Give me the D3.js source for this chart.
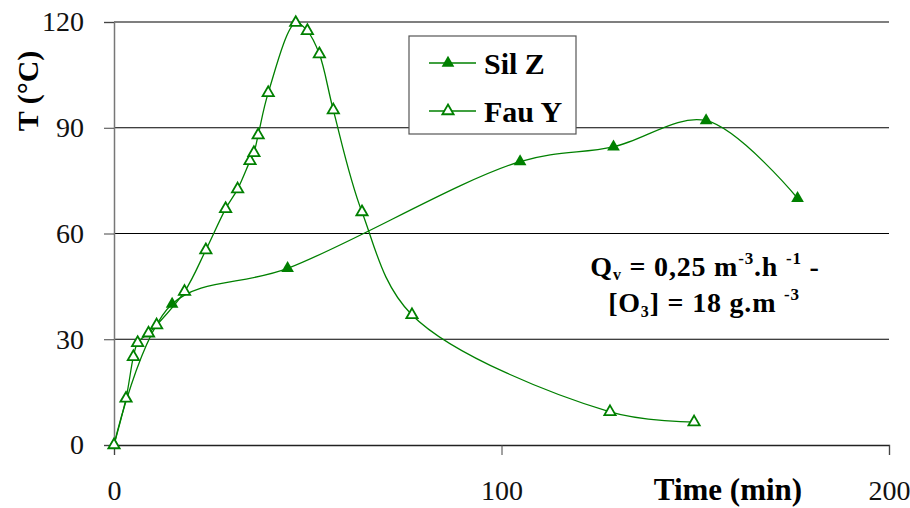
<!DOCTYPE html>
<html>
<head>
<meta charset="utf-8">
<script src="https://cdn.jsdelivr.net/npm/d3@7"></script>
<style>
  body { margin: 0; background: #fff; }
  svg text { font-family: "Liberation Serif", "Times New Roman", Tinos, "DejaVu Serif", "Noto Serif", Times, serif !important; }
</style>
</head>
<body>
<div id="chart"></div>
<script>
// Fau Y (open triangles)
const fauTime = [0, 3.1, 5.0, 6.1, 8.9, 11.0, 18.2, 23.7, 28.8, 31.9, 35.1, 36.1, 37.2, 39.8, 46.9, 49.9, 53.0, 56.6, 64.0, 76.9, 128, 149.7];
const fauTemp = [0, 13.2, 25.0, 29.0, 31.7, 34.0, 43.5, 55.3, 67.0, 72.6, 80.6, 82.9, 87.9, 99.9, 119.8, 117.5, 110.9, 95.0, 66.1, 36.9, 9.4, 6.5];
// Sil Z (filled triangles)
const silTime = [0, 15, 44.8, 104.8, 128.9, 152.8, 176.4];
const silTemp = [0, 40, 50.1, 80.4, 84.6, 92, 70];

const xTicks = [0, 100, 200];
const yTicks = [0, 30, 60, 90, 120];
const seriesNames = ['Sil Z', 'Fau Y'];

const w = 910, h = 508;
const green = '#008000';

const svg = d3.select('#chart').append('svg')
  .attr('width', w)
  .attr('height', h);

const x = d3.scaleLinear().domain([0, 200]).range([114, 889]);
const y = d3.scaleLinear().domain([0, 120]).range([445, 22]);

// grid lines
svg.append('g')
  .selectAll('line')
  .data(yTicks.filter(d => d > 0))
  .enter().append('line')
  .attr('x1', x(0)).attr('x2', x(200))
  .attr('y1', d => y(d)).attr('y2', d => y(d))
  .attr('stroke', '#000').attr('stroke-width', 1.2);

// y axis
const yAxis = d3.axisLeft(y).tickValues(yTicks).tickSize(10).tickPadding(20);
const gy = svg.append('g').attr('transform', `translate(${x(0)},0)`).call(yAxis);
gy.attr('font-family', null);
gy.select('.domain').attr('stroke', '#777').attr('stroke-width', 1.5);
gy.selectAll('.tick line').attr('stroke', '#444');
gy.selectAll('.tick text').attr('font-size', 28).attr('fill', '#111');

// x axis
const xAxis = d3.axisBottom(x).tickValues(xTicks).tickSize(10).tickPadding(25);
const gx = svg.append('g').attr('transform', `translate(0,${y(0)})`).call(xAxis);
gx.attr('font-family', null);
gx.select('.domain').attr('stroke', '#222').attr('stroke-width', 1.3);
gx.selectAll('.tick line').attr('stroke', '#444');
gx.selectAll('.tick text').attr('font-size', 28).attr('fill', '#111');

// axis titles
svg.append('text')
  .attr('transform', `translate(38,91) rotate(-90)`)
  .attr('text-anchor', 'middle')
  .attr('font-size', 30).attr('font-weight', 'bold')
  .text('T (°C)');

svg.append('text')
  .attr('x', 728).attr('y', 500)
  .attr('text-anchor', 'middle')
  .attr('font-size', 31).attr('font-weight', 'bold')
  .text('Time (min)');

// lines
const line = d3.line()
  .x(d => x(d[0]))
  .y(d => y(d[1]))
  .curve(d3.curveCatmullRom);

const silData = silTime.map((t, i) => [t, silTemp[i]]);
const fauData = fauTime.map((t, i) => [t, fauTemp[i]]);

svg.append('path').datum(silData)
  .attr('d', line)
  .attr('fill', 'none').attr('stroke', green).attr('stroke-width', 1.3);
svg.append('path').datum(fauData)
  .attr('d', line)
  .attr('fill', 'none').attr('stroke', green).attr('stroke-width', 1.3);

const tri = d3.symbol().type(d3.symbolTriangle).size(70);
const triOpen = d3.symbol().type(d3.symbolTriangle).size(55);

svg.append('g').selectAll('path')
  .data(silData)
  .enter().append('path')
  .attr('d', tri)
  .attr('transform', d => `translate(${x(d[0])},${y(d[1])})`)
  .attr('fill', green);

svg.append('g').selectAll('path')
  .data(fauData)
  .enter().append('path')
  .attr('d', triOpen)
  .attr('transform', d => `translate(${x(d[0])},${y(d[1])})`)
  .attr('fill', '#fff').attr('stroke', green).attr('stroke-width', 1.8);

// legend
const lg = svg.append('g');
lg.append('rect')
  .attr('x', 409).attr('y', 36).attr('width', 167).attr('height', 98)
  .attr('fill', '#fff').attr('stroke', '#555').attr('stroke-width', 1.2);
seriesNames.forEach((name, i) => {
  const ly = 63 + i * 48;
  lg.append('line')
    .attr('x1', 429).attr('x2', 476).attr('y1', ly).attr('y2', ly)
    .attr('stroke', green).attr('stroke-width', 1.3);
  const m = lg.append('path')
    .attr('transform', `translate(448,${ly})`);
  if (i === 0) m.attr('d', tri).attr('fill', green);
  else m.attr('d', triOpen).attr('fill', '#fff').attr('stroke', green).attr('stroke-width', 1.8);
  lg.append('text')
    .attr('x', 484).attr('y', ly + 11)
    .attr('font-size', 30).attr('font-weight', 'bold')
    .text(name);
});

// annotation
const a1 = svg.append('text')
  .attr('x', 705).attr('y', 276)
  .attr('text-anchor', 'middle')
  .attr('font-size', 28).attr('font-weight', 'bold')
  .attr('letter-spacing', 0.8);
a1.append('tspan').text('Q');
a1.append('tspan').attr('dy', 4).attr('font-size', 16).text('v');
a1.append('tspan').attr('dy', -4).text(' = 0,25 m');
a1.append('tspan').attr('dy', -12).attr('font-size', 17).text('-3');
a1.append('tspan').attr('dy', 12).text('.h ');
a1.append('tspan').attr('dy', -12).attr('font-size', 17).text(' -1');
a1.append('tspan').attr('dy', 12).text('  -');

const a2 = svg.append('text')
  .attr('x', 704).attr('y', 312)
  .attr('text-anchor', 'middle')
  .attr('font-size', 28).attr('font-weight', 'bold')
  .attr('letter-spacing', 0.8);
a2.append('tspan').text('[O');
a2.append('tspan').attr('dy', 5).attr('font-size', 16).text('3');
a2.append('tspan').attr('dy', -5).text('] = 18 g.m ');
a2.append('tspan').attr('dy', -12).attr('font-size', 17).text(' -3');
</script>
</body>
</html>
